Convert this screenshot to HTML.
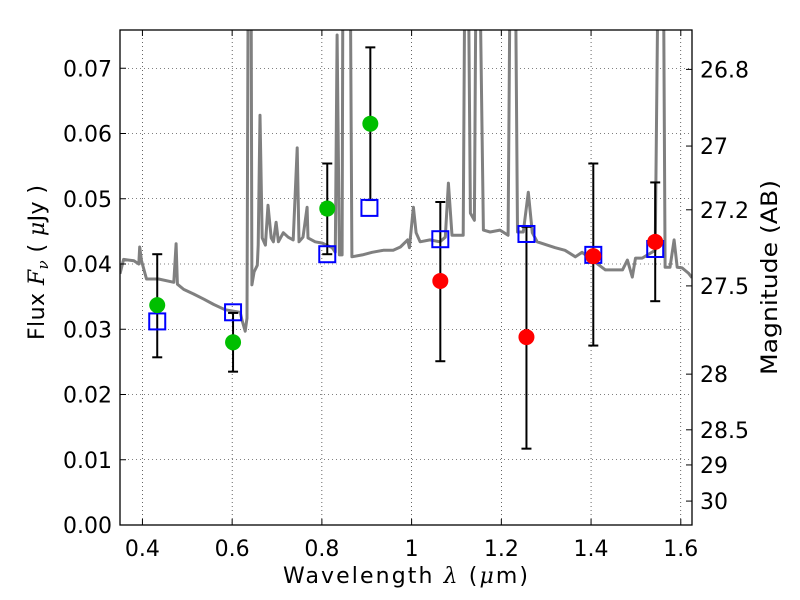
<!DOCTYPE html>
<html><head><meta charset="utf-8"><style>
html,body{margin:0;padding:0;background:#fff;width:800px;height:600px;overflow:hidden}
svg text{font-family:"DejaVu Sans","Liberation Sans",sans-serif}
</style></head><body>
<svg id="chart" width="800" height="600" xmlns="http://www.w3.org/2000/svg"></svg>
<script>
const specLam=[0.350,0.358,0.381,0.392,0.394,0.398,0.409,0.436,0.470,0.475,0.478,0.492,0.514,0.537,0.559,0.584,0.618,0.622,0.629,0.633,0.636,0.642,0.644,0.649,0.656,0.658,0.662,0.667,0.674,0.680,0.687,0.692,0.698,0.703,0.714,0.725,0.736,0.745,0.749,0.758,0.767,0.769,0.785,0.801,0.823,0.830,0.834,0.839,0.845,0.847,0.863,0.867,0.890,0.912,0.937,0.959,0.975,0.991,0.995,1.004,1.010,1.019,1.041,1.063,1.075,1.082,1.090,1.115,1.119,1.126,1.131,1.140,1.144,1.151,1.160,1.175,1.197,1.215,1.220,1.231,1.236,1.249,1.260,1.269,1.280,1.302,1.320,1.342,1.365,1.380,1.432,1.470,1.481,1.492,1.499,1.514,1.543,1.550,1.561,1.565,1.576,1.585,1.592,1.603,1.617,1.625];
const specFlux=[0.0385,0.0407,0.0405,0.0400,0.0426,0.0405,0.0377,0.0377,0.0372,0.0431,0.0369,0.0361,0.0354,0.0346,0.0338,0.0330,0.0326,0.0314,0.0297,0.0317,0.09,0.09,0.0368,0.0388,0.0398,0.0429,0.0628,0.0440,0.0429,0.0490,0.0440,0.0434,0.0464,0.0434,0.0448,0.0441,0.0437,0.0578,0.0434,0.0441,0.0487,0.0440,0.0434,0.0432,0.0425,0.0418,0.0751,0.0414,0.0414,0.09,0.09,0.0411,0.0414,0.0418,0.0421,0.0421,0.0426,0.0437,0.0425,0.0487,0.0448,0.0434,0.0437,0.0434,0.0441,0.0524,0.0444,0.0444,0.09,0.09,0.0478,0.0467,0.09,0.09,0.0452,0.0449,0.0452,0.0444,0.09,0.09,0.0449,0.0449,0.0510,0.0448,0.0434,0.0429,0.0425,0.0421,0.0411,0.0418,0.0391,0.0391,0.0406,0.0380,0.0409,0.0409,0.0421,0.09,0.09,0.0395,0.0395,0.0437,0.0395,0.0394,0.0386,0.0379];
const greenLam=[0.433,0.602,0.812,0.908];
const greenFlux=[0.0337,0.0280,0.0485,0.0615];
const greenLo=[0.0257,0.0235,0.0415,0.0498];
const greenHi=[0.0415,0.0325,0.0554,0.0732];
const redLam=[1.064,1.256,1.405,1.543];
const redFlux=[0.0374,0.0288,0.0412,0.0434];
const redLo=[0.0251,0.0117,0.0275,0.0343];
const redHi=[0.0495,0.0457,0.0554,0.0525];
const modelLam=[0.433,0.602,0.812,0.906,1.064,1.256,1.405,1.543];
const modelFlux=[0.0312,0.0326,0.0415,0.0486,0.0438,0.0446,0.0414,0.0423];
const xTicks=[0.4,0.6,0.8,1.0,1.2,1.4,1.6];
const xTickLabels=["0.4","0.6","0.8","1","1.2","1.4","1.6"];
const yTicks=[0,0.01,0.02,0.03,0.04,0.05,0.06,0.07];
const yTickLabels=["0.00","0.01","0.02","0.03","0.04","0.05","0.06","0.07"];
const magTicks=[26.8,27,27.2,27.5,28,28.5,29,30];
const magTickLabels=["26.8","27","27.2","27.5","28","28.5","29","30"];

const L=120,R=692,T=30,B=525;
const X0=0.35,X1=1.625,Y0=0,Y1=(B-T)/6525;
const sx=v=>L+(v-X0)/(X1-X0)*(R-L);
const sy=v=>B-(v-Y0)/(Y1-Y0)*(B-T);
const ZP=23.91;
const magToFlux=m=>Math.pow(10,(ZP-m)/2.5);
const svg=document.getElementById('chart');
const NS='http://www.w3.org/2000/svg';
function mk(tag,attrs,parent){const e=document.createElementNS(NS,tag);for(const k in attrs)e.setAttribute(k,attrs[k]);(parent||svg).appendChild(e);return e;}

const defs=mk('defs',{});
const cp=mk('clipPath',{id:'clip'},defs);
mk('rect',{x:L,y:T,width:R-L,height:B-T},cp);

const grid=mk('g',{});


xTicks.forEach(v=>{mk('line',{x1:sx(v),x2:sx(v),y1:T,y2:B,stroke:'#000','stroke-width':0.6,'stroke-dasharray':'1,3'},grid);});
yTicks.forEach(v=>{mk('line',{x1:L,x2:R,y1:sy(v),y2:sy(v),stroke:'#000','stroke-width':0.6,'stroke-dasharray':'1,3'},grid);});

const pts=specLam.map((l,i)=>sx(l).toFixed(1)+','+sy(specFlux[i]).toFixed(1)).join(' ');
const spec=mk('polyline',{points:pts,fill:'none',stroke:'#808080','stroke-width':3,'stroke-linejoin':'round','clip-path':'url(#clip)'});



function errbars(lam,lo,hi,name){
  const g=mk('g',{});
  
  
  lam.forEach((l,i)=>{
    const x=sx(l);
    mk('line',{x1:x,x2:x,y1:sy(lo[i]),y2:sy(hi[i]),stroke:'#000','stroke-width':2},g);
    mk('line',{x1:x-5,x2:x+5,y1:sy(lo[i]),y2:sy(lo[i]),stroke:'#000','stroke-width':2},g);
    mk('line',{x1:x-5,x2:x+5,y1:sy(hi[i]),y2:sy(hi[i]),stroke:'#000','stroke-width':2},g);
  });
}
errbars(greenLam,greenLo,greenHi,'green-error-bars');
errbars(redLam,redLo,redHi,'red-error-bars');

const mg=mk('g',{});


modelLam.forEach((l,i)=>{
  const s=mk('rect',{x:sx(l)-8,y:sy(modelFlux[i])-8,width:16,height:16,fill:'none',stroke:'#0000ff','stroke-width':2},mg);
  
  
});
const gg=mk('g',{});


greenLam.forEach((l,i)=>{
  const c=mk('circle',{cx:sx(l),cy:sy(greenFlux[i]),r:8,fill:'#00bf00'},gg);
  
  
});
const rg=mk('g',{});


redLam.forEach((l,i)=>{
  const c=mk('circle',{cx:sx(l),cy:sy(redFlux[i]),r:8,fill:'#ff0000'},rg);
  
  
});

const fr=mk('rect',{x:L,y:T,width:R-L,height:B-T,fill:'none',stroke:'#000','stroke-width':1.3});



const xa=mk('g',{});


xTicks.forEach((v,i)=>{
  const x=sx(v);
  mk('line',{x1:x,x2:x,y1:B,y2:B-6,stroke:'#000','stroke-width':1},xa);
  mk('line',{x1:x,x2:x,y1:T,y2:T+6,stroke:'#000','stroke-width':1},xa);
  const t=mk('text',{x:x,y:B+31,'text-anchor':'middle','font-size':22},xa);
  t.textContent=xTickLabels[i];
});
const ya=mk('g',{});


yTicks.forEach((v,i)=>{
  const y=sy(v);
  mk('line',{x1:L,x2:L+6,y1:y,y2:y,stroke:'#000','stroke-width':1},ya);
  const t=mk('text',{x:L-8,y:y+8,'text-anchor':'end','font-size':22},ya);
  t.textContent=yTickLabels[i];
});
const ma=mk('g',{});


magTicks.forEach((m,i)=>{
  const y=sy(magToFlux(m));
  mk('line',{x1:R,x2:R-6,y1:y,y2:y,stroke:'#000','stroke-width':1},ma);
  const t=mk('text',{x:R+8,y:y+8,'text-anchor':'start','font-size':22},ma);
  t.textContent=magTickLabels[i];
});
</script>
<svg style="position:absolute;left:0;top:0" width="800" height="600" xmlns="http://www.w3.org/2000/svg">
<text x="283" y="583" textLength="245" lengthAdjust="spacing" font-size="22" font-family="DejaVu Sans, sans-serif">Wavelength  <tspan font-style="italic" font-family="DejaVu Serif, serif">λ</tspan> (<tspan font-style="italic" font-family="DejaVu Serif, serif">μ</tspan>m)</text>
<text transform="translate(44,340) rotate(-90)" textLength="155" lengthAdjust="spacing" font-size="22" font-family="DejaVu Sans, sans-serif">Flux  <tspan font-style="italic" font-family="DejaVu Serif, serif">F</tspan><tspan font-style="italic" font-family="DejaVu Serif, serif" font-size="15" dy="4">ν</tspan><tspan dy="-4">  ( </tspan><tspan font-style="italic" font-family="DejaVu Serif, serif">μ</tspan>Jy )</text>
<text transform="translate(777,375) rotate(-90)" textLength="195" lengthAdjust="spacingAndGlyphs" font-size="22" font-family="DejaVu Sans, sans-serif">Magnitude (AB)</text>
</svg>
</body></html>
